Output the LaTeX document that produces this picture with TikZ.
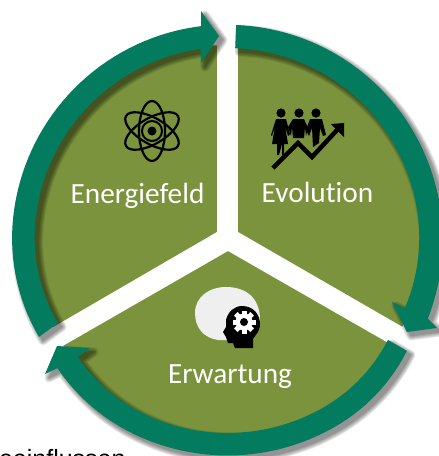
\documentclass[tikz,border=0pt]{standalone}
\usepackage{fontspec}
\setmainfont[Ligatures=NoCommon]{Carlito}
\newfontfamily\arialfont{Liberation Sans}
\definecolor{ringgreen}{HTML}{037B5E}
\definecolor{leaf}{HTML}{7A933C}
\definecolor{pale}{HTML}{EFEFEF}
\tikzset{
  lbl/.style={text=white,font=\fontsize{29.3}{32}\selectfont,inner sep=0pt,anchor=base},
  ink/.style={fill=black,draw=none},
}
\begin{document}
\begin{tikzpicture}[x=1pt,y=-1pt]
\useasboundingbox (0,0) rectangle (439,456);
\def\cx{227.5}\def\cy{240}
\newcommand{\arcA}{
 plot[domain=153.9:262,samples=50,variable=\t] ({\cx+(193-4.3*(max(0,(185-\t)/31))^2)*cos(\t)},{\cy+(193-4.3*(max(0,(185-\t)/31))^2)*sin(\t)})
 -- (201,63) -- (219,36) -- (201,11) -- (201,26)
 -- plot[domain=263:152.8,samples=50,variable=\t] ({\cx+(215.5-3.5*(max(0,(185-\t)/32.2))^2)*cos(\t)},{\cy+(215.5-3.5*(max(0,(185-\t)/32.2))^2)*sin(\t)}) -- cycle}
\newcommand{\arcB}{
 plot[domain=-87.7:21.4,samples=50,variable=\t] ({\cx+215.2*cos(\t)},{\cy+215.2*sin(\t)})
 -- (437,328) -- (407,332) -- (392,302)
 -- plot[domain=21:-87.7,samples=50,variable=\t] ({\cx+(192-2*(max(0,(\t+10)/31))^2)*cos(\t)},{\cy+(192-2*(max(0,(\t+10)/31))^2)*sin(\t)}) -- cycle}
\newcommand{\arcC}{
 plot[domain=31.7:143,samples=50,variable=\t] ({\cx+(215.5-4.5*(max(0,(60-\t)/28))^2-2.5*(max(0,(\t-115)/28))^2)*cos(\t)},{\cy+(215.5-4.5*(max(0,(60-\t)/28))^2-2.5*(max(0,(\t-115)/28))^2)*sin(\t)})
 -- (45,374) -- (57,346) -- (90,348)
 -- plot[domain=142:31.9,samples=50,variable=\t] ({\cx+(193-4*(max(0,(60-\t)/28))^2-3*(max(0,(\t-115)/27))^2)*cos(\t)},{\cy+(193-4*(max(0,(60-\t)/28))^2-3*(max(0,(\t-115)/27))^2)*sin(\t)}) -- cycle}
% green disc cut by Y
\begin{scope}
\clip (0,0) rectangle (439,456);
\fill[leaf] (\cx,\cy) circle[radius=195];
\fill[white] (217,0) rectangle (238,232);
\fill[white] (217,232) -- (238,232) -- (439,348) -- (439,372) -- (228,251) -- (0,382) -- (0,358) -- cycle;
\foreach \w in {9,7.5,6,4.5,3,1.5,0.1}{
 \begin{scope}[shift={(4,4)},transparency group,opacity=.075]
 \draw[black,line width=\w,fill=black,line join=round] \arcA;
 \draw[black,line width=\w,fill=black,line join=round] \arcB;
 \draw[black,line width=\w,fill=black,line join=round] \arcC;
 \end{scope}}
\end{scope}
\fill[ringgreen] \arcA;
\fill[ringgreen] \arcB;
\fill[ringgreen] \arcC;
% atom
\begin{scope}[shift={(152,131)}]
\foreach \a in {0,60,120}
  \draw[black,line width=2.2,rotate=\a] (0,0) ellipse[x radius=13,y radius=30];
\draw[black,line width=2] (0,0) circle[radius=10];
\fill[black] (0,0) circle[radius=4.5];
\end{scope}
% people
\foreach \x in {281,299,316} \fill[ink] (\x,113) circle[radius=4.6];
\fill[ink] (276,119) -- (286,119) -- (290,134) -- (288,136) -- (285,126) -- (288,144) -- (284,144) -- (284,155) -- (282,155) -- (282,144) -- (279,155) -- (277,155) -- (277,144) -- (272,144) -- (275,126) -- (272,136) -- (271,135) -- cycle;
\fill[ink] (293,119) -- (304,119) -- (308,128) -- (306,136) -- (305,127) -- (304,138) -- (293,138) -- (292,127) -- (291,136) -- (288,127) -- cycle;
\fill[ink] (310,119) -- (322,119) -- (326,135) -- (323,136) -- (320,128) -- (319,143) -- (313,147) -- (312,128) -- (309,136) -- (306,130) -- cycle;
\draw[black,line width=4.5,line join=miter] (273,168) -- (298,143) -- (312,157) -- (338,129);
\fill[ink] (331,124) -- (344,123) -- (344,137) -- cycle;
% head
\fill[pale] (195,313) .. controls (195,297) and (209,287) .. (226,287) .. controls (245,287) and (260,297) .. (260,320) -- (240,340) -- (218,340) .. controls (204,338) and (195,328) .. (195,313) -- cycle;
\fill[ink] (242,306) .. controls (253,306) and (260,314) .. (260,324) .. controls (260,332) and (255,335) .. (253,339) -- (253,348) -- (235,348) -- (233,343) -- (228,343) -- (226,337) -- (223,332) -- (226,327) -- (226,320) .. controls (228,312) and (234,306) .. (242,306) -- cycle;
\fill[white] (244,322) circle[radius=8.5];
\foreach \a in {0,45,...,315}
  \fill[white,rotate around={\a:(244,322)}] (241.5,310.5) rectangle (246.5,316);
\fill[ink] (244,322) circle[radius=4];
% text
\node[lbl] (energie) at (137.5,203) {Energiefeld};
\node[lbl] (evo) at (317.5,202.5) {Evolution};
\node[lbl] (erw) at (230,383) {Erwartung};
\begin{scope}
\clip (0,0) rectangle (439,456);
\node[anchor=base west,inner sep=0pt,font=\arialfont\fontsize{25}{27}\selectfont] (cut) at (-15,467) {beeinflussen};
\end{scope}
\end{tikzpicture}
\end{document}
